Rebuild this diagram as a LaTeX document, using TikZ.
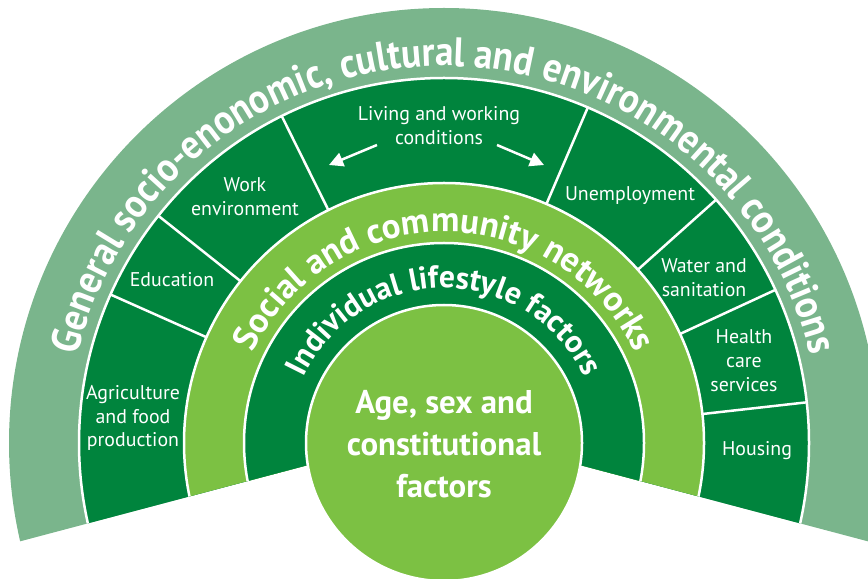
\documentclass[tikz,border=0pt]{standalone}
\usepackage{fontspec}
\setmainfont{PT Sans}
\newfontfamily\outerfont[FakeStretch=0.9]{PT Sans}
\usetikzlibrary{decorations.text,arrows.meta}

\definecolor{outerband}{RGB}{122,181,140}
\definecolor{darkband}{RGB}{0,132,61}
\definecolor{lightband}{RGB}{124,193,67}

\tikzset{
  ring/.style={draw=white, line width=0.05cm},
  divider/.style={white, line width=0.05cm},
  factor/.style={text=white, align=center, inner sep=0pt, font=\fontsize{11.3}{13.6}\selectfont},
  core/.style={text=white, align=center, inner sep=0pt, font=\bfseries\fontsize{18.7}{23.8}\selectfont},
  pointer/.style={white, line width=0.05cm, -{Triangle[length=8pt,width=8pt]}},
}

\begin{document}
\begin{tikzpicture}[x=0.02cm, y=0.02cm]
\useasboundingbox (0,0) rectangle (868,578);
\begin{scope}[shift={(444,135)}]
  % bands, cut below
  \begin{scope}
    \clip (0,14) -- (-483,-114) -- (-483,460) -- (483,460) -- (483,-114) -- cycle;
    \fill[outerband] (0,0) circle[radius=435];
    \draw[ring, fill=darkband] (0,0) circle[radius=365];
    \draw[ring, fill=lightband] (0,0) circle[radius=260];
    \draw[ring, fill=darkband] (0,0) circle[radius=200];
  \end{scope}
  \foreach \a in {6.4, 24.8, 41.8, 66.8, 116.4, 141.5, 156}
    \draw[divider] (\a:260) -- (\a:365);
  \draw[ring, fill=lightband] (0,0) circle[radius=138];

  % curved titles
  \path[decorate, decoration={text along path, text align=center, text color=white,
    text={|\outerfont\bfseries\fontsize{23.5}{23.5}\selectfont|General socio-enonomic, cultural and environmental conditions}}]
    (175:377) arc[start angle=175, end angle=5, radius=377];
  \path[decorate, decoration={text along path, text align=center, text color=white,
    text={|\bfseries\fontsize{20}{20}\selectfont|Social and community networks}}]
    (170:211) arc[start angle=170, end angle=10, radius=211];
  \path[decorate, decoration={text along path, text align=center, text color=white,
    text={|\bfseries\fontsize{18}{18}\selectfont|Individual lifestyle factors}}]
    (170:155) arc[start angle=170, end angle=10, radius=155];

  % factors
  \node[factor] (agri) at (-311,25) {Agriculture\\and food\\production};
  \node[factor] (edu) at (-272,163) {Education};
  \node[factor] (work) at (-199,246) {Work\\environment};
  \node[factor] (living) at (-5,317) {Living and working\\conditions};
  \node[factor] (unemp) at (186,247) {Unemployment};
  \node[factor] (water) at (260,165) {Water and\\sanitation};
  \node[factor] (health) at (300,82) {Health\\care\\services};
  \node[factor] (housing) at (313,-8) {Housing};
  \node[core] (age) at (0,-1) {Age, sex and\\constitutional\\factors};

  \coordinate (lwl) at (-67,298);
  \coordinate (lwlend) at (-115,278);
  \coordinate (lwr) at (53,298);
  \coordinate (lwrend) at (100,278);
  \draw[pointer] (lwl) -- (lwlend);
  \draw[pointer] (lwr) -- (lwrend);
\end{scope}
\end{tikzpicture}
\end{document}
